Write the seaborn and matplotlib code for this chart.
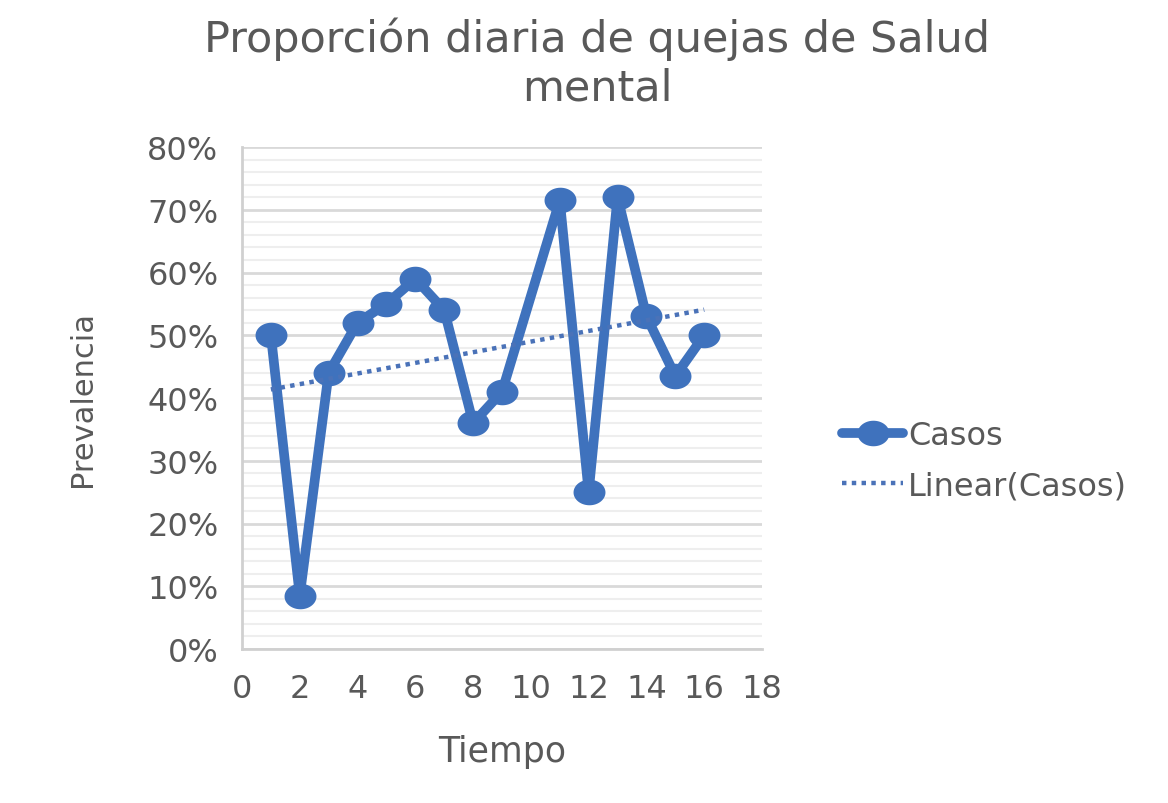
import numpy as np
import pandas as pd
import matplotlib.pyplot as plt
from matplotlib.path import Path
from matplotlib.ticker import MultipleLocator, PercentFormatter
import seaborn as sns

# === Data ===
tiempo = [1, 2, 3, 4, 5, 6, 7, 8, 9, 11, 12, 13, 14, 15, 16]
casos = [0.50, 0.085, 0.44, 0.52, 0.55, 0.59, 0.54, 0.36, 0.41,
         0.715, 0.25, 0.72, 0.53, 0.435, 0.50]

df = pd.DataFrame({"Tiempo": tiempo, "Casos": casos})

# linear trendline like the spreadsheet one
slope, intercept = np.polyfit(df["Tiempo"], df["Casos"], 1)
trend = pd.DataFrame({"Tiempo": [min(tiempo), max(tiempo)]})
trend["Casos"] = intercept + slope * trend["Tiempo"]

# === Style ===
sns.set_style("white")
plt.rcParams["font.family"] = ["DejaVu Sans"]
text_col = "#595959"
blue = "#3F72BD"

# wide ellipse marker (the original picture is stretched sideways)
t = np.linspace(0, 2 * np.pi, 60)
ellipse = Path(np.column_stack([1.25 * np.cos(t), np.sin(t)]), closed=True)

fig = plt.figure(figsize=(11.68, 8.04), dpi=100)
ax = fig.add_axes([242 / 1168, 1 - 650 / 804, 520 / 1168, 502 / 804])

sns.lineplot(data=df, x="Tiempo", y="Casos", ax=ax, color=blue, linewidth=7,
             marker=ellipse, markersize=23, markeredgewidth=0,
             label="Casos", zorder=3)
sns.lineplot(data=trend, x="Tiempo", y="Casos", ax=ax, color="#4A72B8",
             linewidth=3.2, linestyle=(0, (1, 1.2)), label="Linear(Casos)",
             zorder=4)

ax.set_xlim(0, 18)
ax.set_ylim(0, 0.8)
ax.xaxis.set_major_locator(MultipleLocator(2))
ax.yaxis.set_major_locator(MultipleLocator(0.1))
ax.yaxis.set_minor_locator(MultipleLocator(0.02))
ax.yaxis.set_major_formatter(PercentFormatter(1.0, decimals=0))

ax.grid(which="major", axis="y", color="#d9d9d9", linewidth=2)
ax.grid(which="minor", axis="y", color="#eeeeee", linewidth=1.5)
ax.set_axisbelow(True)

for side in ["top", "right"]:
    ax.spines[side].set_visible(False)
ax.spines["left"].set_color("#d0d0d0")
ax.spines["left"].set_linewidth(2)
ax.spines["bottom"].set_color("#d0d0d0")
ax.spines["bottom"].set_linewidth(2)

ax.tick_params(axis="both", which="major", direction="out", length=11,
               width=2, color="#d0d0d0", labelsize=23, labelcolor=text_col,
               pad=6)
ax.tick_params(axis="y", which="minor", length=0)

ax.set_xlabel("Tiempo", fontsize=25, color=text_col, labelpad=22)
ax.set_ylabel("Prevalencia", fontsize=22, color=text_col, labelpad=36)

fig.suptitle("Proporción diaria de quejas de Salud\nmental", x=597 / 1168,
             y=0.978, fontsize=31, color=text_col, linespacing=1.2)

ax.legend(loc="center left", bbox_to_anchor=(1.13, 0.375), frameon=False,
          fontsize=23, labelcolor=text_col, handlelength=1.9,
          handletextpad=0.15, labelspacing=0.6, borderaxespad=0)

fig.savefig("out.png", dpi=100)
plt.close(fig)
